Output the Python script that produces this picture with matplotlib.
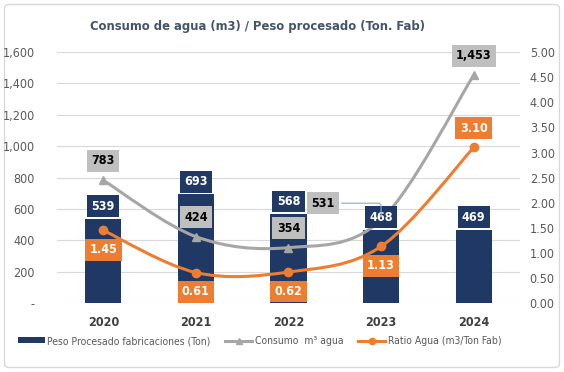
import matplotlib
matplotlib.use("Agg")
import matplotlib.pyplot as plt
from matplotlib.path import Path
from matplotlib.patches import PathPatch, FancyBboxPatch, Patch
from matplotlib.lines import Line2D

plt.rcParams['font.family'] = ['DejaVu Sans']
plt.rcParams['font.stretch'] = 'condensed'

years = ['2020', '2021', '2022', '2023', '2024']
peso = [539, 693, 568, 468, 469]
consumo = [783, 424, 354, 531, 1453]
ratio = [1.45, 0.61, 0.62, 1.13, 3.10]

navy = '#203864'
gray = '#A6A6A6'
gray_box = '#BFBFBF'
orange = '#ED7D31'
txt = '#595959'


# smooth path like Excel's smoothed line (Catmull-Rom -> Bezier)
def smooth_path(xs, ys):
    pts = list(zip(xs, ys))
    verts = [pts[0]]
    codes = [Path.MOVETO]
    n = len(pts)
    for i in range(n - 1):
        p0 = pts[i - 1] if i > 0 else pts[i]
        p1 = pts[i]
        p2 = pts[i + 1]
        p3 = pts[i + 2] if i + 2 < n else pts[i + 1]
        c1 = (p1[0] + (p2[0] - p0[0]) / 6, p1[1] + (p2[1] - p0[1]) / 6)
        c2 = (p2[0] - (p3[0] - p1[0]) / 6, p2[1] - (p3[1] - p1[1]) / 6)
        verts += [c1, c2, p2]
        codes += [Path.CURVE4] * 3
    return Path(verts, codes)


fig = plt.figure(figsize=(5.64, 3.72), dpi=100)
fig.patches.append(FancyBboxPatch((0.008, 0.012), 0.984, 0.976, boxstyle='round,pad=0,rounding_size=0.01',
                                  transform=fig.transFigure, facecolor='none', edgecolor='#D9D9D9',
                                  lw=1, zorder=-5))

ax = fig.add_axes([0.101, 0.185, 0.821, 0.675])
ax2 = ax.twinx()
ax.set_zorder(1)
ax2.set_zorder(2)
ax.patch.set_visible(False)
ax2.patch.set_visible(False)

x = list(range(len(years)))

# bars
ax.bar(x, peso, width=0.39, color=navy, zorder=2)
ax.set_xlim(-0.5, 4.5)
ax.set_ylim(0, 1600)
ax.set_yticks(range(0, 1601, 200))
ax.set_yticklabels(['-'] + [f'{v:,}' for v in range(200, 1601, 200)])
ax.grid(axis='y', color='#D9D9D9', lw=0.8, zorder=0)
ax.set_axisbelow(True)
ax.set_xticks(x)
ax.set_xticklabels(years, fontweight='bold', color='#404040', fontsize=9)
ax.tick_params(axis='both', length=0)
ax.tick_params(axis='y', colors=txt, labelsize=9, pad=16)
ax.tick_params(axis='x', pad=9)
for s in ax.spines.values():
    s.set_visible(False)

# consumo line (left axis)
ax.add_patch(PathPatch(smooth_path(x, consumo), facecolor='none', edgecolor=gray, lw=2.2, zorder=3))
ax.plot(x, consumo, linestyle='none', marker='^', color=gray, markersize=6, zorder=3)

# ratio line (right axis)
ax2.set_ylim(0, 5)
ax2.set_yticks([i * 0.5 for i in range(11)])
ax2.set_yticklabels([f'{i * 0.5:.2f}' for i in range(11)])
ax2.tick_params(axis='y', colors=txt, labelsize=9, length=0, pad=7)
for s in ax2.spines.values():
    s.set_visible(False)
ax2.add_patch(PathPatch(smooth_path(x, ratio), facecolor='none', edgecolor=orange, lw=2.2, zorder=3))
ax2.plot(x, ratio, linestyle='none', marker='o', color=orange, markersize=6, zorder=3)

box = dict(boxstyle='square,pad=0.35', ec='none')

# bar labels
for i, v in enumerate(peso):
    ax.annotate(f'{v:,}', (i, v), textcoords='offset points', xytext=(0, 9),
                ha='center', va='center', fontsize=9, fontweight='bold', color='white',
                bbox=dict(box, fc=navy), zorder=5)

# consumo labels
for i, v in enumerate(consumo):
    if i == 3:
        continue
    ax.annotate(f'{v:,}', (i, v), textcoords='offset points', xytext=(0, 14),
                ha='center', va='center', fontsize=9, fontweight='bold', color='black',
                bbox=dict(box, fc=gray_box), zorder=6)
ax.annotate(f'{consumo[3]:,}', (3, consumo[3]), textcoords='offset points', xytext=(-42, 12),
            ha='center', va='center', fontsize=9, fontweight='bold', color='black',
            bbox=dict(box, fc=gray_box), zorder=6,
            arrowprops=dict(arrowstyle='-', color='#8EA9C1', lw=0.8,
                            connectionstyle='angle,angleA=0,angleB=90,rad=3'))

# ratio labels
for i, v in enumerate(ratio):
    off = 14 if i == 4 else -14
    ax2.annotate(f'{v:.2f}', (i, v), textcoords='offset points', xytext=(0, off),
                 ha='center', va='center', fontsize=9, fontweight='bold', color='white',
                 bbox=dict(box, fc=orange), zorder=6)

fig.text(0.457, 0.930, 'Consumo de agua (m3) / Peso procesado (Ton. Fab)', ha='center', va='center',
         fontsize=9.3, fontweight='bold', color='#44546A')

handles = [Patch(facecolor=navy),
           Line2D([], [], color=gray, lw=2.2, marker='^', markersize=4.5),
           Line2D([], [], color=orange, lw=2.2, marker='o', markersize=4.5)]
labels = ['Peso Procesado fabricaciones (Ton)', 'Consumo  m³ agua', 'Ratio Agua (m3/Ton Fab)']
fig.legend(handles, labels, loc='center', bbox_to_anchor=(0.46, 0.083), ncol=3, frameon=False,
           fontsize=7.5, labelcolor=txt, handlelength=2.6, handletextpad=0.25, columnspacing=1.4,
           handleheight=0.5, borderpad=0)

fig.savefig('out.png', dpi=100)
